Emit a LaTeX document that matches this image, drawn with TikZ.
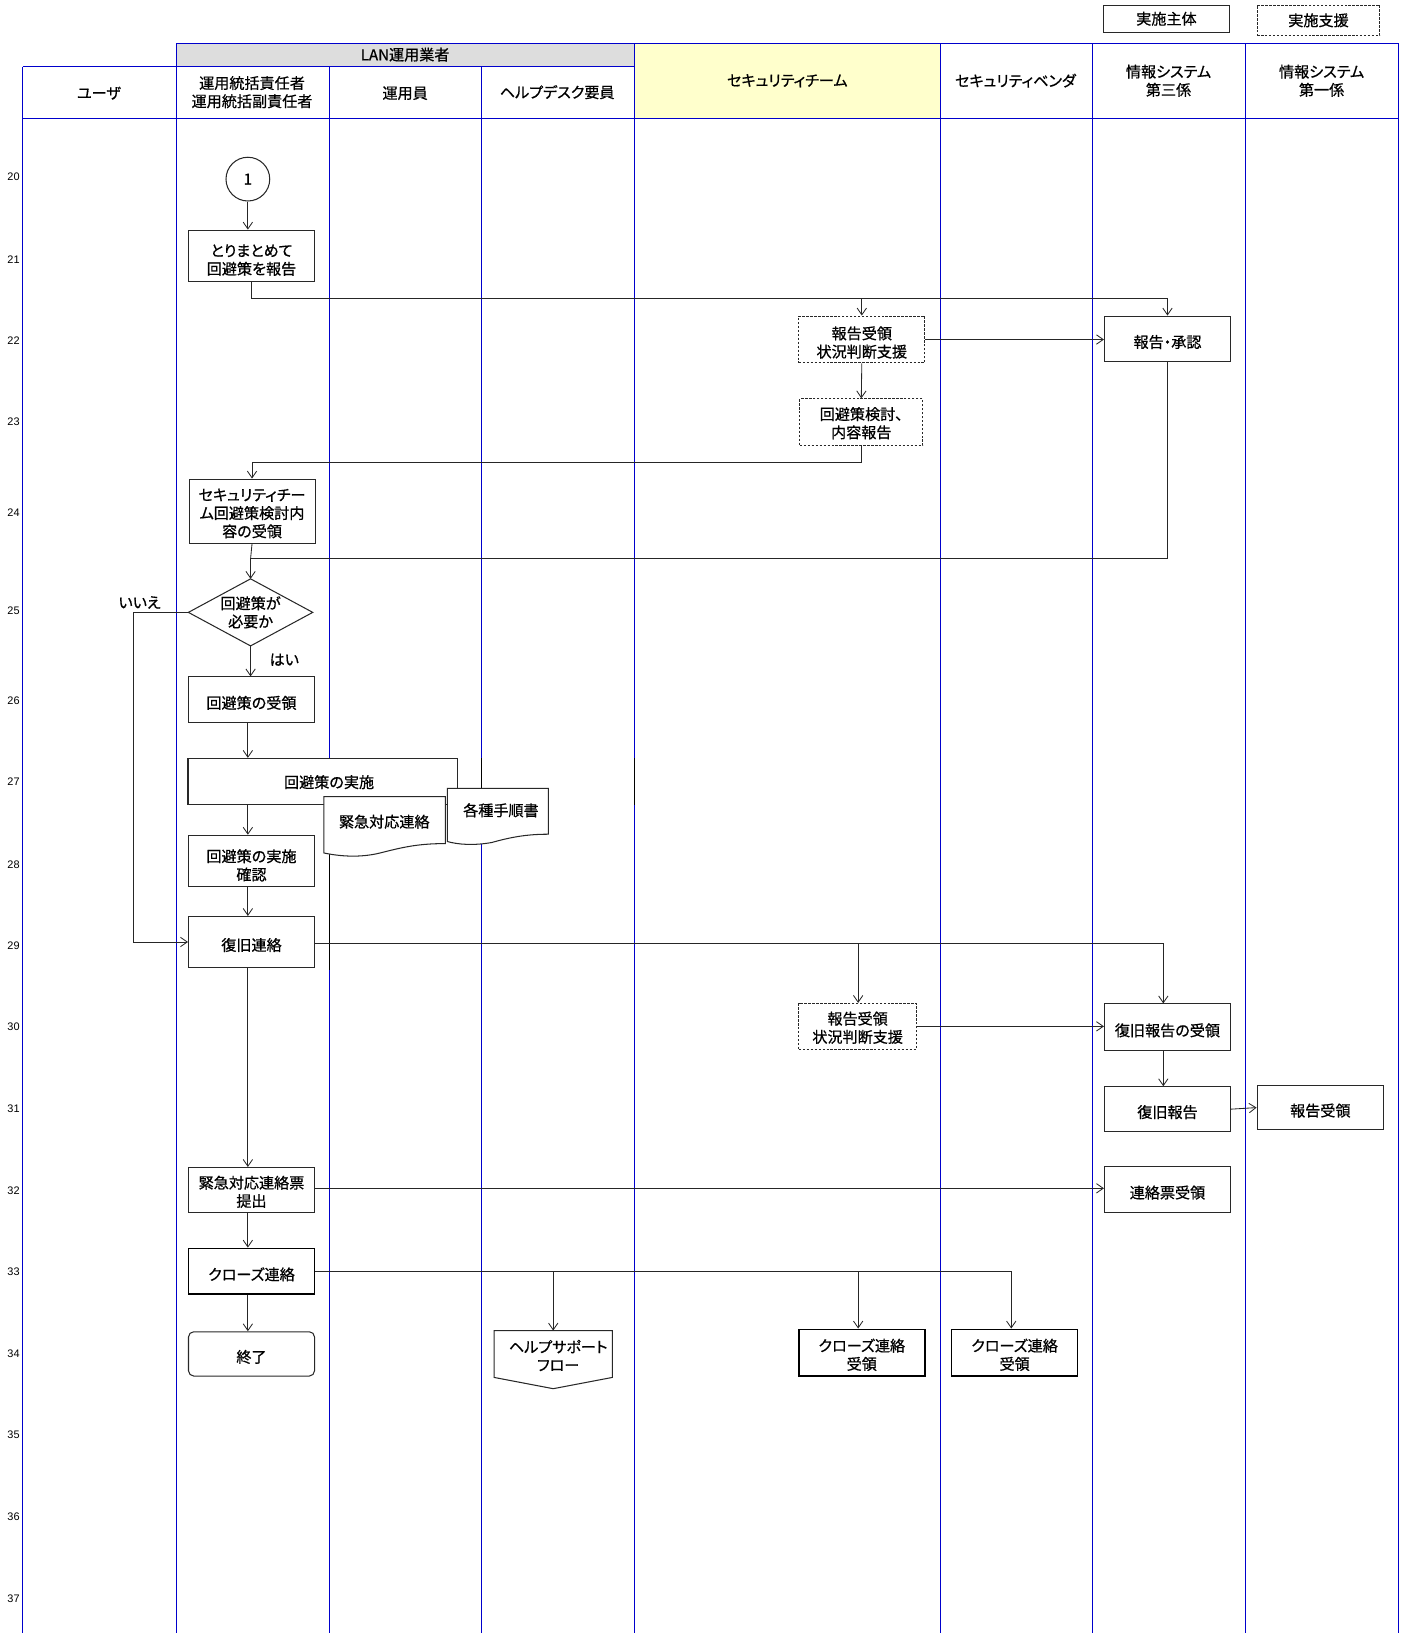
\documentclass[tikz,border=0pt]{standalone}
\usepackage{fontspec}
\setmainfont{Noto Sans CJK JP}[RawFeature=+palt,FakeBold=0.7]
\newfontfamily\numfont{Liberation Sans}
\usetikzlibrary{arrows.meta}
\definecolor{lanecol}{RGB}{0,0,204}
\definecolor{grouphead}{RGB}{221,221,221}
\definecolor{teamhead}{RGB}{255,255,204}
\definecolor{inkcol}{RGB}{40,40,40}
% invisible strut that enlarges the first text line, pushing the block down
\newcommand\topgap[1]{\rule{0pt}{#1}}

\begin{document}
\begin{tikzpicture}[x=1pt,y=-1pt,
  font=\fontsize{14.5}{17.5}\selectfont,
  lane/.style={draw=lanecol,line width=0.9pt},
  lowered/.style={execute at begin node={\rule{0pt}{#1}}},
  lowered/.default=18pt,
  hdr/.style={inner sep=0pt,align=center},
  rownum/.style={inner sep=0pt,font=\numfont\fontsize{10.5}{11}\selectfont},
  plainbox/.style={draw=inkcol,fill=white,line width=1pt,inner sep=0pt,align=center},
  box/.style={plainbox,lowered},
  supportbox/.style={box,dash pattern=on 2.4pt off 1.4pt},
  closebox/.style={box,line width=1.7pt,draw=black},
  shapeline/.style={draw=inkcol,fill=white,line width=1pt},
  txt/.style={inner sep=0pt,align=center},
  arr/.style={draw=black!85,line width=0.8pt,-{Straight Barb[length=6.5pt,width=9pt,line width=0.8pt]}},
  link/.style={draw=black!85,line width=0.8pt}
]
\useasboundingbox (0,0) rectangle (1352,1568);

% header backgrounds
\fill[grouphead] (169,42) rectangle (609,64);
\fill[teamhead] (609,42) rectangle (903,114);

% swimlane grid
\draw[lane] (169,42) -- (1343,42);
\draw[lane] (22,64) -- (609,64);
\draw[lane] (22,114) -- (1343,114);
\foreach \x in {22,316,462} \draw[lane] (\x,64) -- (\x,1568);
\foreach \x in {169,609,903,1049,1196,1343} \draw[lane] (\x,42) -- (\x,1568);

% short black grid segments
\draw[black,line width=0.9pt] (316,819) -- (316,931);
\draw[black,line width=0.9pt] (462,728) -- (462,757);
\draw[black,line width=0.9pt] (609,728) -- (609,773);

% header labels
\node[hdr] (hLan) at (389,52.5) {LAN運用業者};
\node[hdr] (hUser) at (95,89.5) {ユーザ};
\node[hdr] (hMgr) at (242,88.5) {運用統括責任者\\運用統括副責任者};
\node[hdr] (hOp) at (389,89.5) {運用員};
\node[hdr] (hHelp) at (535,88.5) {ヘルプデスク要員};
\node[hdr] (hSec) at (756,77.5) {セキュリティチーム};
\node[hdr] (hVen) at (975,77.5) {セキュリティベンダ};
\node[hdr] (hSys3) at (1122,77.5) {情報システム\\第三係};
\node[hdr] (hSys1) at (1269,77.5) {情報システム\\第一係};

% legend
\node[plainbox,minimum width=121,minimum height=26] (legMain) at (1120,18) {実施主体};
\node[plainbox,dash pattern=on 2.4pt off 1.4pt,minimum width=118,minimum height=29] (legSup) at (1266,19.5) {実施支援};

% row numbers
\foreach \n/\y in {20/170,21/249,22/327,23/405,24/492,25/586,26/673,27/751,28/830,
                   29/908,30/986,31/1065,32/1143,33/1221,34/1300,35/1378,36/1456,37/1535}
  \node[rownum] (r\n) at (13,\y) {\n};

% ---- operations manager lane ----
\node[plainbox,circle,minimum size=42] (c1) at (238,172) {1};
\node[box,minimum width=121,minimum height=49] (n21) at (241.5,245.5) {\topgap{20pt}とりまとめて\\回避策を報告};
\node[box,minimum width=121,minimum height=61.5] (n24) at (242,490.75) {\topgap{16pt}セキュリティチー\\ム回避策検討内\\容の受領};

\node[txt,minimum width=119,minimum height=64] (dia) at (240.6,588) {回避策が\\必要か};
\draw[shapeline,fill=none] (dia.north) -- (dia.east) -- (dia.south) -- (dia.west) -- cycle;
\node[txt] (lblNo) at (134,578.5) {いいえ};
\node[txt] (lblYes) at (273,633.5) {はい};

\node[box,minimum width=121,minimum height=44] (n26) at (241.5,672) {回避策の受領};
\node[plainbox,minimum width=259,minimum height=44] (n27) at (310,750.2) {};
\node[txt] (n27t) at (316,751) {回避策の実施};

% document shapes
\draw[shapeline] (311,765) -- (427.6,765) -- (427.6,810)
  .. controls (400,810) and (385,814) .. (365,819)
  .. controls (345,824) and (325,822) .. (311,819) -- cycle;
\node[txt] (doc1) at (369,789) {緊急対応連絡};
\draw[shapeline] (429.5,757) -- (526.5,757) -- (526.5,801)
  .. controls (505,801) and (490,804) .. (472,809)
  .. controls (455,812) and (440,811) .. (429.5,808) -- cycle;
\node[txt] (doc2) at (481,778) {各種手順書};

\node[box,minimum width=121,minimum height=49] (n28) at (241.5,826.5) {\topgap{21pt}回避策の実施\\確認};
\node[box,minimum width=121,minimum height=49] (n29) at (241.5,904.5) {復旧連絡};
\node[box,minimum width=121,minimum height=43] (n32) at (241.5,1142.5) {\topgap{16pt}緊急対応連絡票\\提出};
\node[closebox,minimum width=121,minimum height=44] (n33) at (241.5,1220.8) {クローズ連絡};
\node[box,rounded corners=5pt,minimum width=121,minimum height=42.5] (n34) at (241.5,1300) {終了};

% ---- help desk lane ----
\node[inner sep=0pt,minimum width=113,minimum height=55.4] (help) at (531.2,1305.5) {};
\draw[shapeline] (help.north west) -- (help.north east) -- (help.east |- 0,1322.6)
  -- (help.south) -- (help.west |- 0,1322.6) -- cycle;
\node[txt] (helpt) at (536,1301.5) {ヘルプサポート\\フロー};

% ---- security team lane ----
\node[supportbox,minimum width=121,minimum height=45] (sec22) at (827.5,326) {\topgap{18pt}報告受領\\状況判断支援};
\node[supportbox,minimum width=118,minimum height=45] (sec23) at (827,405.5) {\topgap{14pt}回避策検討、\\内容報告};
\node[supportbox,minimum width=113,minimum height=44] (sec30) at (823.5,985.5) {\topgap{15pt}報告受領\\状況判断支援};
\node[closebox,minimum width=121,minimum height=45] (sec34) at (827.5,1299) {\topgap{16pt}クローズ連絡\\受領};

% ---- security vendor lane ----
\node[closebox,minimum width=121,minimum height=45] (ven34) at (974.2,1299) {\topgap{16pt}クローズ連絡\\受領};

% ---- information systems lanes ----
\node[box,minimum width=121,minimum height=44] (app22) at (1121,325.5) {報告・承認};
\node[box,minimum width=121,minimum height=45] (s30) at (1121,986.5) {復旧報告の受領};
\node[box,minimum width=121,minimum height=43] (s31) at (1121,1065) {復旧報告};
\node[box,minimum width=121.5,minimum height=42] (f31) at (1267.8,1063.5) {報告受領};
\node[box,minimum width=121,minimum height=44] (s32) at (1121,1142.2) {連絡票受領};

% junction points
\coordinate (j1) at (241.5,286.5);
\coordinate (j2) at (240.6,536.5);
\coordinate (j3) at (128,904.5);
\coordinate (j4) at (1117,906);
\coordinate (j5) at (971,1220.8);
\coordinate (j6) at (824,1220.8);
\coordinate (j7) at (824,906);

% ---- connectors ----
\draw[arr] (c1) -- (c1 |- n21.north);
\draw[arr] (n21.south) -- (j1) -| (app22.north);
\draw[arr] (j1 -| sec22.north) -- (sec22.north);
\draw[arr] (sec22.east) -- (sec22.east -| app22.west);
\draw[arr] (sec22.south) -- (sec23.north);
\draw[arr] (sec23.south) |- (n24.north |- 0,444.3) -- (n24.north);
\draw[link] (app22.south) |- (j2);
\draw[arr] (n24.south) -- (j2) -- (dia.north);
\draw[arr] (dia.south) -- (dia.south |- n26.north);
\draw[arr] (dia.west) -| (j3) -- (n29.west);
\draw[arr] (n26.south -| c1) -- (n27.north -| c1);
\draw[arr] (n27.south -| c1) -- (n28.north -| c1);
\draw[arr] (n28.south -| c1) -- (n29.north -| c1);
\draw[arr] (n29.east |- j4) -- (j4) -- (j4 |- s30.north);
\draw[arr] (j7) -- (j7 |- sec30.north);
\draw[arr] (sec30.east) -- (sec30.east -| s30.west);
\draw[arr] (s30.south -| j4) -- (s31.north -| j4);
\draw[arr] (s31.east) -- (f31.west);
\draw[arr] (n29.south -| c1) -- (n32.north -| c1);
\draw[arr] (n32.east |- 0,1141) -- (s32.west |- 0,1141);
\draw[arr] (n32.south -| c1) -- (n33.north -| c1);
\draw[arr] (n33.east) -- (j5) -- (j5 |- ven34.north);
\draw[arr] (help.north |- j5) -- (help.north);
\draw[arr] (j6) -- (j6 |- sec34.north);
\draw[arr] (n33.south -| c1) -- (n34.north -| c1);
\end{tikzpicture}
\end{document}
